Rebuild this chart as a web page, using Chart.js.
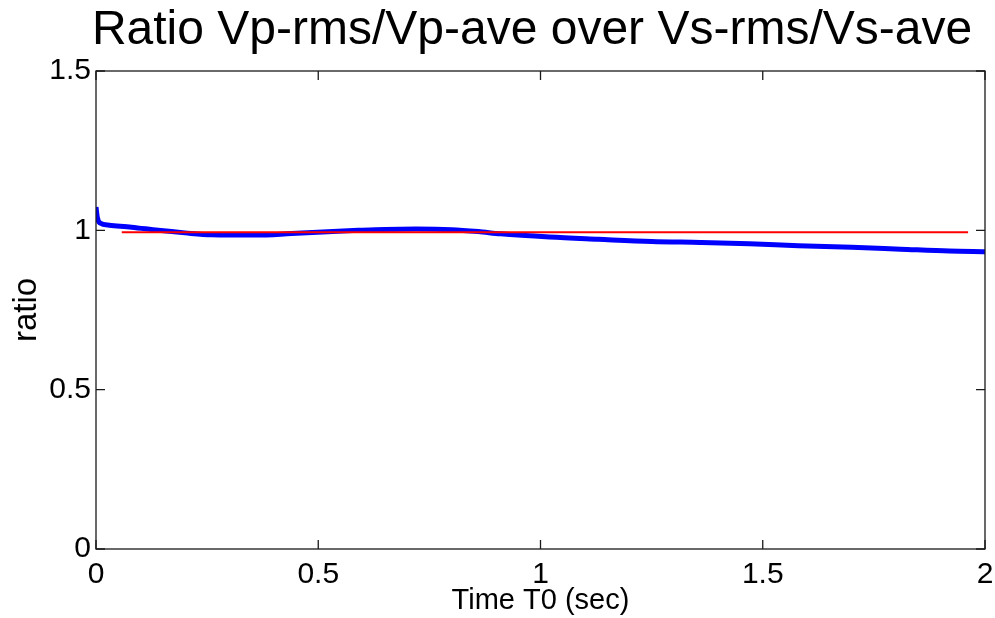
<!DOCTYPE html>
<html>
<head>
<meta charset="utf-8">
<script src="https://cdn.jsdelivr.net/npm/chart.js@4/dist/chart.umd.min.js"></script>
<style>
  body { margin: 0; background: #fff; }
  canvas { display: block; }
</style>
</head>
<body>
<canvas id="ratioChart" width="995" height="618"></canvas>
<script>
// --- Data ---
const titleText = "Ratio Vp-rms/Vp-ave over Vs-rms/Vs-ave";
const xTitle = "Time T0 (sec)";
const yTitle = "ratio";

const xTickValues = [0, 0.5, 1, 1.5, 2];
const xTickLabels = ["0", "0.5", "1", "1.5", "2"];
const yTickValues = [0, 0.5, 1, 1.5];
const yTickLabels = ["0", "0.5", "1", "1.5"];

// measured ratio (blue)
const blueTime  = [0, 0.003, 0.009, 0.03, 0.08, 0.14, 0.2, 0.26, 0.36, 0.44, 0.51, 0.59, 0.65, 0.72, 0.8, 0.86, 0.91, 1.02, 1.13, 1.25, 1.36, 1.47, 1.58, 1.7, 1.81, 1.92, 2.0];
const blueRatio = [1.073, 1.04, 1.023, 1.016, 1.01, 1.0, 0.992, 0.986, 0.985, 0.99, 0.995, 1.0, 1.003, 1.004, 1.002, 0.996, 0.989, 0.979, 0.972, 0.965, 0.962, 0.958, 0.952, 0.947, 0.941, 0.935, 0.933];

// reference level (red)
const redTime  = [0.058, 1.962];
const redRatio = [0.9937, 0.9937];

const toPoints = (xs, ys) => xs.map((x, i) => ({ x: x, y: ys[i] }));

// MATLAB-like box with inward ticks on all four sides, plus the title
const matlabFrame = {
    id: "matlabFrame",
    afterDatasetsDraw(chart) {
        const { ctx, chartArea: a, scales } = chart;
        const tick = 9;
        ctx.save();
        ctx.strokeStyle = "#1a1a1a";
        ctx.lineWidth = 1.3;
        ctx.strokeRect(a.left, a.top, a.right - a.left, a.bottom - a.top);
        ctx.beginPath();
        xTickValues.forEach(v => {
            const px = scales.x.getPixelForValue(v);
            ctx.moveTo(px, a.bottom); ctx.lineTo(px, a.bottom - tick);
            ctx.moveTo(px, a.top); ctx.lineTo(px, a.top + tick);
        });
        yTickValues.forEach(v => {
            const py = scales.y.getPixelForValue(v);
            ctx.moveTo(a.left, py); ctx.lineTo(a.left + tick, py);
            ctx.moveTo(a.right, py); ctx.lineTo(a.right - tick, py);
        });
        ctx.stroke();

        ctx.fillStyle = "#000";
        ctx.font = "48px 'Liberation Sans', Arial, sans-serif";
        ctx.textAlign = "center";
        ctx.textBaseline = "alphabetic";
        ctx.fillText(titleText, 532, 44);
        ctx.restore();
    }
};

const ctx = document.getElementById("ratioChart").getContext("2d");
new Chart(ctx, {
    type: "line",
    data: {
        datasets: [
            {
                label: "reference",
                data: toPoints(redTime, redRatio),
                borderColor: "#ff0000",
                borderWidth: 2,
                pointRadius: 0,
                fill: false
            },
            {
                label: "ratio",
                data: toPoints(blueTime, blueRatio),
                borderColor: "#0000ff",
                borderWidth: 5,
                pointRadius: 0,
                cubicInterpolationMode: "monotone",
                fill: false
            }
        ]
    },
    options: {
        responsive: false,
        animation: false,
        layout: { padding: { left: 0, right: 10, top: 71, bottom: 0 } },
        plugins: {
            legend: { display: false },
            tooltip: { enabled: false }
        },
        scales: {
            x: {
                type: "linear",
                min: 0,
                max: 2,
                afterBuildTicks: s => { s.ticks = xTickValues.map(v => ({ value: v })); },
                afterFit: s => { s.height = 69; s.paddingLeft = 0; s.paddingRight = 0; },
                grid: { display: false, drawTicks: false },
                border: { display: false },
                ticks: {
                    autoSkip: false,
                    maxRotation: 0,
                    padding: 8,
                    color: "#000",
                    font: { family: "'Liberation Sans', Arial, sans-serif", size: 30 },
                    callback: v => xTickLabels[xTickValues.indexOf(v)]
                },
                title: {
                    display: true,
                    text: xTitle,
                    color: "#000",
                    padding: 0,
                    font: { family: "'Liberation Sans', Arial, sans-serif", size: 29 }
                }
            },
            y: {
                type: "linear",
                min: 0,
                max: 1.5,
                afterBuildTicks: s => { s.ticks = yTickValues.map(v => ({ value: v })); },
                afterFit: s => { s.width = 96; s.paddingTop = 0; s.paddingBottom = 0; },
                grid: { display: false, drawTicks: false },
                border: { display: false },
                ticks: {
                    autoSkip: false,
                    padding: 5,
                    color: "#000",
                    font: { family: "'Liberation Sans', Arial, sans-serif", size: 30 },
                    callback: v => yTickLabels[yTickValues.indexOf(v)]
                },
                title: {
                    display: true,
                    text: yTitle,
                    color: "#000",
                    padding: 7,
                    font: { family: "'Liberation Sans', Arial, sans-serif", size: 33 }
                }
            }
        }
    },
    plugins: [matlabFrame]
});
</script>
</body>
</html>
